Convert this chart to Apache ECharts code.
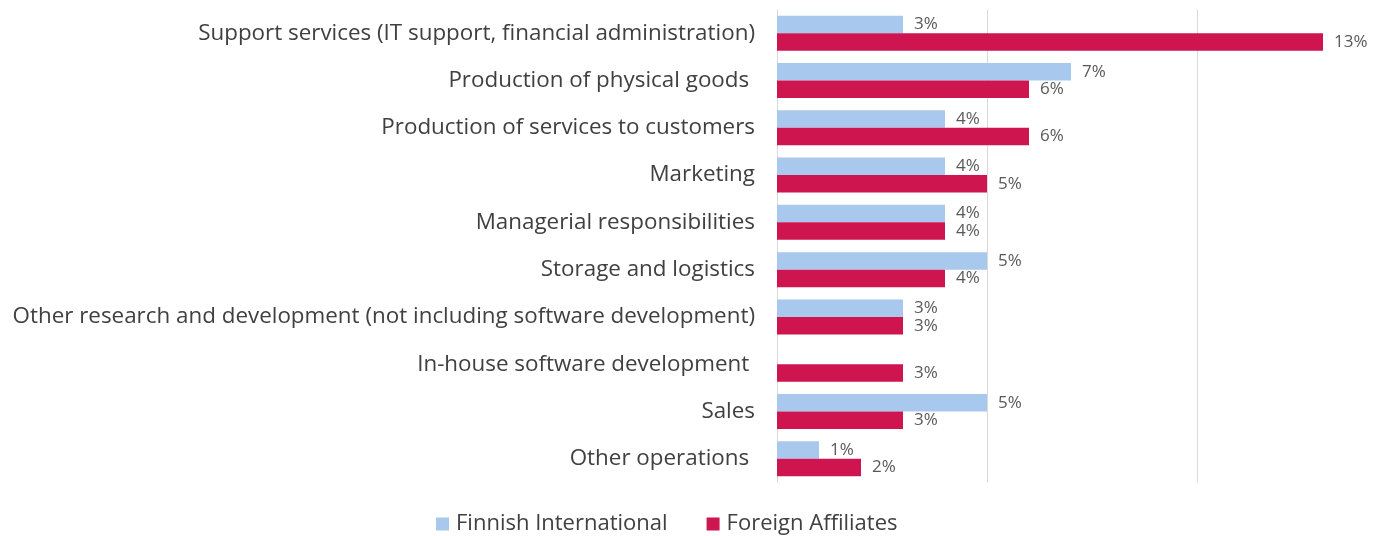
<!DOCTYPE html>
<html lang="en">
<head>
<meta charset="UTF-8" />
<title>Operations</title>
<style>
    html, body { margin: 0; padding: 0; background: #fff; }
    #chart { width: 1393px; height: 536px; }
</style>
</head>
<body>
<div id="chart"></div>
<script src="https://cdn.jsdelivr.net/npm/echarts@6/dist/echarts.min.js"></script>
<script>
    // categories top to bottom
    var categories = [
        'Support services (IT support, financial administration)',
        'Production of physical goods ',
        'Production of services to customers',
        'Marketing',
        'Managerial responsibilities',
        'Storage and logistics',
        'Other research and development (not including software development)',
        'In-house software development ',
        'Sales',
        'Other operations '
    ];
    var finnish = [3, 7, 4, 4, 4, 5, 3, null, 5, 1];
    var foreign = [13, 6, 6, 5, 4, 4, 3, 3, 3, 2];

    var chart = echarts.init(document.getElementById('chart'));

    var labelStyle = {
        show: true,
        position: 'right',
        distance: 11,
        color: '#595959',
        fontSize: 17,
        fontFamily: 'Open Sans',
        formatter: function (p) { return p.value + '%'; }
    };

    var option = {
        backgroundColor: '#fff',
        animation: false,
        textStyle: { fontFamily: 'Open Sans' },
        // 42px per percent, axis runs off the right edge
        grid: { left: 777, top: 9.5, right: 0, height: 473, containLabel: false },
        legend: {
            top: 508,
            left: 431,
            itemWidth: 13,
            itemHeight: 13,
            itemGap: 39,
            icon: 'rect',
            textStyle: { fontSize: 22, color: '#404040', fontFamily: 'Open Sans', padding: [0, 0, 0, 2] },
            data: ['Finnish International', 'Foreign Affiliates']
        },
        xAxis: {
            type: 'value',
            min: 0,
            max: 616 / 42,
            interval: 5,
            axisLabel: { show: false },
            axisLine: { show: false },
            axisTick: { show: false },
            splitLine: { lineStyle: { color: '#d9d9d9', width: 1 } }
        },
        yAxis: {
            type: 'category',
            inverse: true,
            data: categories,
            axisLine: { show: false },
            axisTick: { show: false },
            axisLabel: { fontSize: 22.4, color: '#404040', margin: 22, fontFamily: 'Open Sans' }
        },
        series: [
            {
                name: 'Finnish International',
                type: 'bar',
                data: finnish,
                barWidth: 17.5,
                barGap: '0%',
                itemStyle: { color: '#a9c8ee' },
                label: labelStyle
            },
            {
                name: 'Foreign Affiliates',
                type: 'bar',
                data: foreign,
                barWidth: 17.5,
                barGap: '0%',
                itemStyle: { color: '#ce1550' },
                label: labelStyle
            }
        ]
    };

    chart.setOption(option);
</script>
</body>
</html>
